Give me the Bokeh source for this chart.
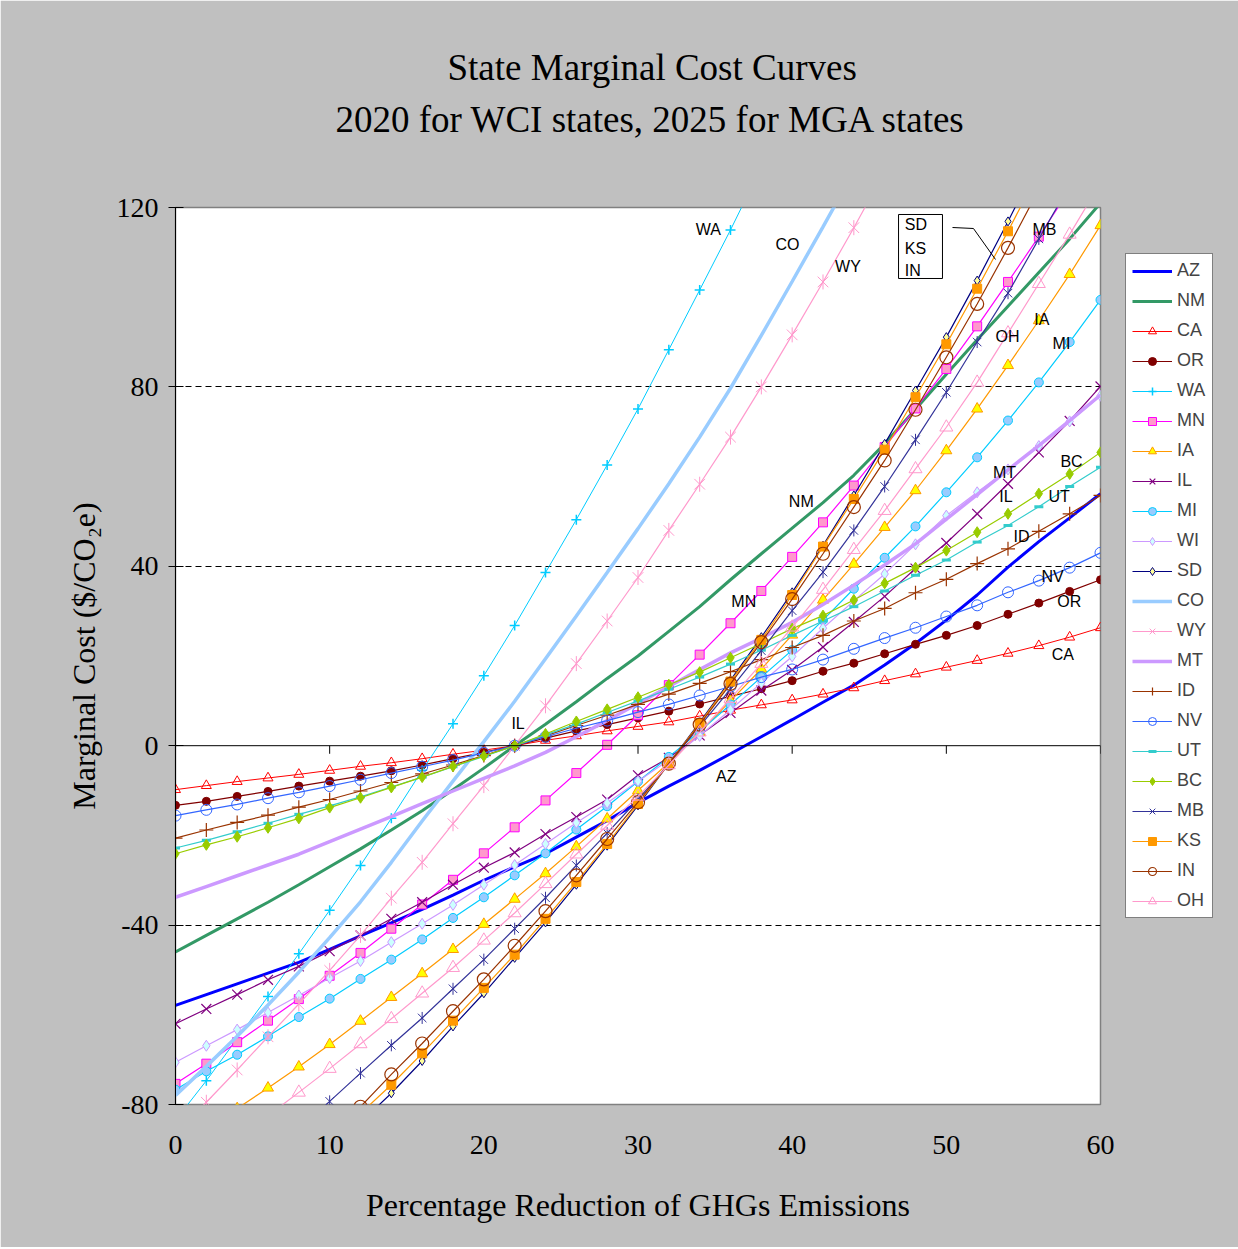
import math
from bokeh.plotting import figure
from bokeh.models import FixedTicker, Legend, LegendItem, Span, Range1d, Title
from bokeh.embed import file_html
from bokeh.resources import INLINE
from bokeh.core.properties import value

# ---------------- data ----------------
PCT = [0, 2, 4, 6, 8, 10, 12, 14, 16, 18, 20, 22, 24, 26, 28, 30,
       32, 34, 36, 38, 40, 42, 44, 46, 48, 50, 52, 54, 56, 58, 60]

AZ = [-57.9, -55.5, -53.1, -50.7, -48.3, -45.4, -42.4, -39.5, -36.5, -33.3, -30.0, -27.0, -24.1, -20.4, -16.7, -12.7,
      -9.0, -5.5, -1.8, 2.0, 5.8, 9.7, 13.5, 18.0, 22.8, 28.0, 33.6, 39.8, 45.5, 50.8, 56.2]
NM = [-46.0, -42.3, -38.6, -34.9, -31.0, -27.0, -23.0, -18.8, -14.5, -9.8, -5.0, 0.0, 4.8, 9.8, 15.0, 20.0,
      25.5, 31.0, 37.0, 42.8, 48.5, 54.2, 60.3, 67.3, 75.0, 82.8, 90.5, 98.0, 105.5, 113.0, 121.0]
CA = [-9.8, -8.9, -8.0, -7.2, -6.4, -5.5, -4.6, -3.8, -2.9, -1.9, -1.0, 0.0, 1.2, 2.2, 3.3, 4.3,
      5.3, 6.6, 7.9, 9.1, 10.2, 11.5, 12.9, 14.5, 16.0, 17.5, 19.0, 20.6, 22.3, 24.2, 26.3]
OR = [-13.3, -12.4, -11.3, -10.2, -9.0, -7.9, -6.8, -5.6, -4.3, -2.9, -1.5, 0.0, 1.7, 3.3, 4.7, 6.2,
      7.7, 9.3, 11.0, 12.7, 14.5, 16.6, 18.4, 20.5, 22.6, 24.6, 26.8, 29.3, 31.8, 34.4, 37.0]
WA = [-83.5, -74.7, -65.3, -55.9, -46.4, -36.7, -26.7, -16.2, -5.5, 4.9, 15.6, 26.8, 38.6, 50.4, 62.6, 75.1,
      88.3, 101.6, 115.0, 129.0]
MN = [-75.4, -70.9, -66.1, -61.3, -56.5, -51.3, -46.2, -40.8, -35.4, -29.9, -24.0, -18.2, -12.2, -6.1, 0.2, 6.8,
      13.5, 20.3, 27.3, 34.5, 42.1, 49.8, 58.0, 66.6, 75.2, 84.0, 93.5, 103.4, 113.5, 124.0]
IA = [-85.5, -80.9, -76.3, -71.6, -66.6, -61.4, -56.1, -50.8, -45.4, -39.8, -34.2, -28.5, -22.5, -16.3, -10.0,
      -3.8, 3.0, 10.0, 17.1, 24.7, 32.5, 40.5, 48.7, 56.9, 65.8, 75.1, 84.8, 94.8, 105.1, 116.0]
IL = [-62.0, -58.7, -55.5, -52.2, -49.2, -45.8, -42.3, -38.6, -34.9, -31.0, -27.2, -23.8, -19.7, -15.9, -12.0, -6.6,
      -2.7, 2.3, 7.3, 12.3, 16.9, 22.0, 27.6, 33.3, 39.5, 45.2, 51.7, 58.4, 65.4, 72.4, 80.1]
MI = [-76.7, -72.6, -68.9, -64.8, -60.5, -56.4, -52.0, -47.7, -43.2, -38.4, -33.8, -28.9, -24.0, -18.7, -13.5, -8.0,
      -2.5, 3.2, 9.2, 15.3, 21.3, 28.0, 35.0, 41.9, 48.9, 56.5, 64.3, 72.5, 81.0, 90.0, 99.4]
WI = [-70.6, -66.9, -63.3, -59.5, -55.7, -51.8, -48.0, -43.8, -39.7, -35.5, -31.0, -26.6, -21.9, -17.2, -12.8, -7.9,
      -3.2, 2.2, 8.0, 14.0, 19.9, 26.2, 32.3, 38.3, 44.9, 51.3, 56.5, 61.6, 66.8, 72.3, 78.0]
SD = [-84.0, -77.5, -70.3, -62.6, -55.2, -47.3, -39.4, -31.0, -22.3, -13.3, -4.0, 5.2, 14.6, 24.2, 34.2, 44.6,
      55.8, 67.3, 79.2, 91.1, 103.7, 116.9, 130.5]
CO = [-78.0, -71.5, -64.8, -57.8, -50.5, -42.8, -34.8, -26.0, -16.8, -7.9, 0.9, 9.9, 19.4, 28.9, 38.6, 48.4,
      58.4, 68.8, 79.7, 91.5, 103.5, 115.7, 128.0]
WY = [-86.5, -79.5, -72.3, -64.9, -57.6, -50.1, -42.3, -34.0, -26.0, -17.4, -8.9, 0.0, 8.9, 18.3, 27.8, 37.5,
      48.0, 58.3, 68.8, 80.0, 91.6, 103.4, 115.5, 128.0]
MT = [-33.8, -31.4, -29.0, -26.6, -24.2, -21.4, -18.6, -15.8, -12.9, -10.1, -7.3, -4.5, -1.5, 2.0, 5.6, 9.4,
      13.2, 17.0, 20.7, 24.0, 27.5, 31.5, 35.8, 40.3, 45.0, 50.5, 56.0, 61.5, 66.9, 72.5, 78.2]
ID = [-20.6, -18.8, -17.1, -15.5, -13.7, -12.0, -10.1, -8.2, -6.3, -4.3, -2.2, 0.0, 2.2, 4.5, 6.8, 9.2,
      11.5, 13.9, 16.5, 19.2, 21.9, 24.6, 27.8, 30.6, 34.1, 37.1, 40.6, 43.9, 47.8, 51.7, 55.8]
NV = [-15.6, -14.3, -13.1, -11.7, -10.4, -9.0, -7.6, -6.1, -4.7, -3.2, -1.6, 0.0, 2.0, 3.9, 5.6, 7.5,
      9.2, 11.2, 13.2, 15.3, 17.0, 19.2, 21.6, 24.0, 26.3, 28.8, 31.3, 34.2, 36.8, 39.7, 43.0]
UT = [-22.8, -21.1, -19.2, -17.3, -15.3, -13.4, -11.4, -9.2, -7.0, -4.7, -2.4, 0.0, 2.4, 4.8, 7.4, 10.0,
      12.6, 15.3, 18.2, 21.3, 24.6, 27.8, 31.0, 34.5, 38.0, 41.4, 45.4, 49.1, 53.3, 57.8, 62.1]
BC = [-24.1, -22.1, -20.3, -18.3, -16.2, -13.8, -11.6, -9.3, -7.0, -4.6, -2.3, 0.0, 2.6, 5.4, 8.1, 10.8,
      13.6, 16.4, 19.6, 22.8, 26.1, 29.0, 32.5, 36.2, 39.7, 43.5, 47.6, 51.7, 56.2, 60.6, 65.4]
MB = [-85.5, -79.3, -73.0, -66.8, -60.7, -54.2, -47.7, -40.8, -33.9, -26.7, -19.5, -12.0, -4.0, 4.3, 12.6, 21.2,
      30.1, 38.7, 48.0, 57.8, 68.2, 78.8, 90.0, 100.9, 113.0, 125.0]
KS = [-82.0, -75.6, -68.6, -61.3, -54.0, -46.6, -38.6, -30.4, -21.9, -13.0, -4.0, 5.0, 14.3, 23.6, 33.6, 44.4,
      55.0, 66.0, 77.7, 89.5, 101.9, 114.7, 128.0]
IN = [-87.5, -80.5, -73.3, -66.4, -59.2, -52.1, -44.6, -36.9, -28.9, -20.8, -12.6, -4.0, 4.7, 13.8, 23.1, 32.7,
      42.8, 53.2, 63.6, 74.9, 86.6, 98.5, 111.0, 124.0]
OH = [-82.5, -77.3, -72.0, -66.5, -60.9, -55.2, -49.5, -43.4, -37.3, -30.8, -24.2, -17.8, -11.3, -4.3, 3.0, 10.5,
      18.3, 26.4, 34.8, 43.7, 52.4, 61.7, 71.0, 81.0, 92.0, 103.0, 114.0, 125.5]

# first x value (index into PCT) of each series
START = {"AZ": 0, "NM": 0, "CA": 0, "OR": 0, "WA": 0, "MN": 0, "IA": 1, "IL": 0, "MI": 0, "WI": 0,
         "SD": 6, "CO": 0, "WY": 0, "MT": 0, "ID": 0, "NV": 0, "UT": 0, "BC": 0, "MB": 4, "KS": 6,
         "IN": 5, "OH": 3}

Y_TICKS = [-80, -40, 0, 40, 80, 120]
Y_TICK_LABELS = {-80: "-80", -40: "-40", 0: "0", 40: "40", 80: "80", 120: "120"}
X_TICKS = [0, 10, 20, 30, 40, 50, 60]

TITLE_1 = "State Marginal Cost Curves"
TITLE_2 = "2020 for WCI states, 2025 for MGA states"
X_LABEL = "Percentage Reduction of GHGs Emissions"
Y_LABEL = "Marginal Cost ($/CO\u2082e)"

# in-chart labels: text, x, y
NOTE_TEXT = ["WA", "CO", "WY", "MB", "OH", "IA", "MI", "NM", "MT", "IL", "UT", "BC", "ID",
             "NV", "OR", "CA", "MN", "IL", "AZ"]
NOTE_X = [34.57, 39.70, 43.62, 56.37, 53.97, 56.19, 57.47, 40.59, 53.77, 53.87, 57.32, 58.12, 54.88,
          56.89, 57.97, 57.56, 36.86, 22.22, 35.73]
NOTE_Y = [115.1, 111.8, 106.8, 115.1, 91.2, 95.0, 89.7, 54.4, 60.9, 55.6, 55.6, 63.4, 46.6,
          37.7, 32.2, 20.4, 32.1, 5.0, -6.8]
BOX_TEXT = ["SD", "KS", "IN"]
BOX_Y = [116.2, 110.9, 106.0]

SERIF = "Liberation Serif"
SANS = "Liberation Sans"

p = figure(frame_width=925, frame_height=897,
           min_border_left=175, min_border_right=136, min_border_top=207, min_border_bottom=143,
           x_range=Range1d(0, 60), y_range=Range1d(-80, 120),
           output_backend="svg", toolbar_location=None)
p.background_fill_color = "white"
p.border_fill_color = "#c0c0c0"
p.outline_line_color = "#808080"
p.outline_line_width = 1.5

# grid
p.xgrid.visible = False
p.ygrid.ticker = FixedTicker(ticks=[-80, -40, 40, 80])
p.ygrid.grid_line_color = "black"
p.ygrid.grid_line_dash = "6 4"
p.ygrid.grid_line_width = 1

# axes
p.yaxis.ticker = FixedTicker(ticks=Y_TICKS)
p.yaxis.major_label_overrides = Y_TICK_LABELS
p.xaxis.ticker = FixedTicker(ticks=X_TICKS)
for ax in (p.xaxis[0], p.yaxis[0]):
    ax.major_label_text_font = SERIF
    ax.major_label_text_font_size = "28px"
    ax.major_label_text_color = "black"
    ax.axis_label_text_font = SERIF
    ax.axis_label_text_font_size = "32px"
    ax.axis_label_text_font_style = "normal"
    ax.axis_label_text_color = "black"
    ax.minor_tick_line_color = None
p.yaxis.axis_label = Y_LABEL
p.xaxis.axis_label = X_LABEL
p.yaxis.axis_line_color = "black"
p.yaxis.major_tick_line_color = "black"
p.yaxis.major_tick_out = 7
p.yaxis.major_tick_in = 8
p.yaxis.major_label_standoff = 10
p.yaxis.axis_label_standoff = 12
p.xaxis.axis_line_color = None
p.xaxis.major_tick_line_color = None
p.xaxis.major_tick_out = 0
p.xaxis.major_tick_in = 0
p.xaxis.major_label_standoff = 31
p.xaxis.axis_label_standoff = 30

# zero line with its ticks
p.add_layout(Span(location=0, dimension="width", line_color="black", line_width=1))
p.segment(x0=X_TICKS[1:], y0=[0] * 6, x1=X_TICKS[1:], y1=[-1.8] * 6, line_color="black", line_width=1)

items = []


def series(name, vals, color, width=1.2, marker=None, size=9, fill=None, mline=1.0, star=False):
    s = START[name]
    xs = PCT[s:s + len(vals)]
    rs = [p.line(xs, vals, line_color=color, line_width=width)]
    if marker:
        rs.append(p.scatter(xs, vals, marker=marker, size=size, line_color=color,
                            fill_color=fill, line_width=mline))
    if star:
        rs.append(p.scatter(xs, vals, marker="dash", angle=math.pi / 2, size=size,
                            line_color=color, line_width=mline))
    items.append(LegendItem(label=name, renderers=rs))


series("AZ", AZ, "#0000ff", width=3)
series("NM", NM, "#339966", width=3)
series("CA", CA, "#ff0000", width=1, marker="triangle", size=10)
series("OR", OR, "#800000", marker="circle", size=8, fill="#800000")
series("WA", WA, "#00ccff", width=1, marker="cross", size=10, mline=1.5)
series("MN", MN, "#ff00ff", marker="square", size=9, fill="#ff99cc")
series("IA", IA, "#ff9900", marker="triangle", size=11, fill="#ffff00")
series("IL", IL, "#800080", marker="x", size=14, mline=1.2)
series("MI", MI, "#00ccff", marker="circle", size=9, fill="#99ccff")
series("WI", WI, "#cc99ff", marker="diamond", size=11, fill="#ccffff")
series("SD", SD, "#000080", marker="diamond", size=9, fill="#ffff99")
series("CO", CO, "#99ccff", width=3.5)
series("WY", WY, "#ff99cc", marker="x", size=15, star=True)
series("MT", MT, "#cc99ff", width=3.5)
series("ID", ID, "#993300", marker="cross", size=14, mline=1.2)
series("NV", NV, "#3366ff", marker="circle", size=11)
series("UT", UT, "#33cccc", marker="dash", size=9, mline=3)
series("BC", BC, "#99cc00", marker="diamond", size=11, fill="#99cc00")
series("MB", MB, "#333399", marker="x", size=12, star=True)
series("KS", KS, "#ff9900", marker="square", size=9, fill="#ff9900")
series("IN", IN, "#993300", marker="circle", size=13, mline=1.2)
series("OH", OH, "#ff99cc", marker="triangle", size=13)

# in-chart labels
p.text(x=NOTE_X, y=NOTE_Y, text=NOTE_TEXT, text_font=value(SANS), text_font_size="16px",
       text_align="center", text_baseline="middle", text_color="black")
p.quad(left=[46.9], right=[49.75], top=[118.44], bottom=[104.17], fill_color="white",
       line_color="black", line_width=1)
p.text(x=[47.3] * 3, y=BOX_Y, text=BOX_TEXT, text_font=value(SANS), text_font_size="16px",
       text_align="left", text_baseline="middle", text_color="black")
p.line([50.40, 51.76, 53.19], [115.54, 115.32, 108.41], line_color="black", line_width=1)

legend = Legend(items=items, location=(25, 186), orientation="vertical",
                label_text_font=SANS, label_text_font_size="18px",
                glyph_width=40, glyph_height=20, label_height=20, spacing=9, padding=6,
                label_standoff=5, margin=0,
                border_line_color="black", border_line_width=1,
                background_fill_color="white", background_fill_alpha=1.0)
p.add_layout(legend, "right")

# titles: a blank spacer next to the plot, then the two title lines stacked above it
p.add_layout(Title(text=" ", standoff=61, text_font_size="1px", text_color="#c0c0c0"), "above")
p.add_layout(Title(text=TITLE_2, align="left", offset=160, standoff=8,
                   text_font=SERIF, text_font_size="37px", text_font_style="normal",
                   text_color="black"), "above")
p.add_layout(Title(text=TITLE_1, align="left", offset=272, standoff=9,
                   text_font=SERIF, text_font_size="37px", text_font_style="normal",
                   text_color="black"), "above")

open("out.html", "w").write(file_html(p, INLINE))
